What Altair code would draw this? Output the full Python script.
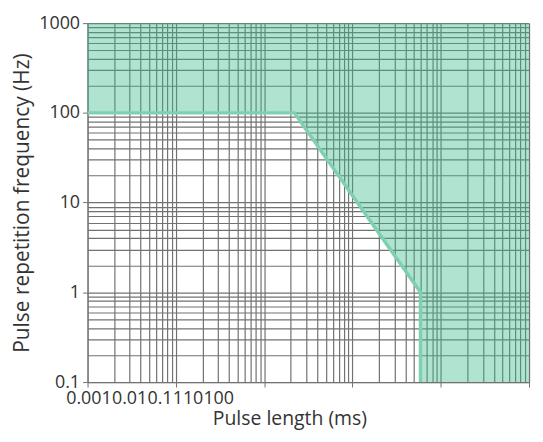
import altair as alt
import pandas as pd

# Boundary of the shaded (not allowed) region
pulse_length = [0.001, 0.22, 5.9, 5.9, 100]
pulse_freq = [100, 100, 1, 0.1, 0.1]
freq_top = [1000, 1000, 1000, 1000, 1000]
order = [0, 1, 2, 3, 4]

x_decades = [0.001, 0.01, 0.1, 1, 10, 100]
y_decades = [0.1, 1, 10, 100, 1000]

x_grid = [round(m * 10 ** k, 6) for k in range(-3, 2) for m in range(1, 10)] + [100]
y_grid = [round(m * 10 ** k, 6) for k in range(-1, 3) for m in range(1, 10)] + [1000]

df = pd.DataFrame({"x": pulse_length, "y": pulse_freq, "top": freq_top, "o": order})
line_df = df.iloc[:4]

FONT = "Open Sans"
W, H = 444, 361
GRID = "#727272"

xdec = "[" + ",".join(str(v) for v in x_decades) + "]"
ydec = "[" + ",".join(str(v) for v in y_decades) + "]"

# crammed label placement (labels sit next to each other at the left)
x_label_offsets = [-22, -64.8, -117.9, -181.3, -259.8, -328.0]
label_offset = {
    "condition": [
        {"test": f"datum.value == {v}", "value": off}
        for v, off in zip(x_decades[1:], x_label_offsets[1:])
    ],
    "value": x_label_offsets[0],
}

x_axis = alt.Axis(
    values=x_grid,
    grid=True,
    gridColor=GRID,
    gridWidth=1.2,
    domainColor=GRID,
    tickColor=GRID,
    tickSize=5,
    tickOpacity={"condition": {"test": f"indexof({xdec}, datum.value) >= 0", "value": 1}, "value": 0},
    labelExpr=f"indexof({xdec}, datum.value) >= 0 ? toString(datum.value) : ''",
    labelAlign="left",
    labelOffset=label_offset,
    labelFlush=False,
    labelOverlap=False,
    labelBound=False,
    labelFontSize=18,
    labelPadding=3,
    title="Pulse length (ms)",
    titleFontSize=19.5,
    titlePadding=2,
    titleX=203,
)

y_axis = alt.Axis(
    values=y_grid,
    grid=True,
    gridColor=GRID,
    gridWidth=1.2,
    domainColor=GRID,
    tickColor=GRID,
    tickSize=5,
    tickOpacity={"condition": {"test": f"indexof({ydec}, datum.value) >= 0", "value": 1}, "value": 0},
    labelExpr=f"indexof({ydec}, datum.value) >= 0 ? toString(datum.value) : ''",
    labelOverlap=False,
    labelFlush=False,
    labelBound=False,
    labelFontSize=18,
    labelPadding=3,
    title="Pulse repetition frequency (Hz)",
    titleFontSize=21,
    titlePadding=6,
)

xs = alt.Scale(type="log", domain=[0.001, 100], nice=False)
ys = alt.Scale(type="log", domain=[0.1, 1000], nice=False)

area = alt.Chart(df).mark_area(color="#3dbb8a", opacity=0.4, orient="vertical").encode(
    x=alt.X("x:Q", scale=xs, axis=x_axis),
    y=alt.Y("y:Q", scale=ys, axis=y_axis, stack=None),
    y2=alt.Y2("top:Q"),
)

line = alt.Chart(line_df).mark_line(color="#7fd0b0", strokeWidth=3.5).encode(
    x=alt.X("x:Q", scale=xs),
    y=alt.Y("y:Q", scale=ys),
    order="o:Q",
)

chart = (
    alt.layer(area, line)
    .properties(width=W, height=H, padding={"left": 3, "top": 5, "right": 5, "bottom": 5})
    .configure_view(strokeWidth=0)
    .configure_axis(
        labelFont=FONT,
        titleFont=FONT,
        labelColor="#333333",
        titleColor="#333333",
        titleFontWeight="normal",
    )
)

chart.save("out.html", embed_options={"renderer": "svg", "actions": False})
